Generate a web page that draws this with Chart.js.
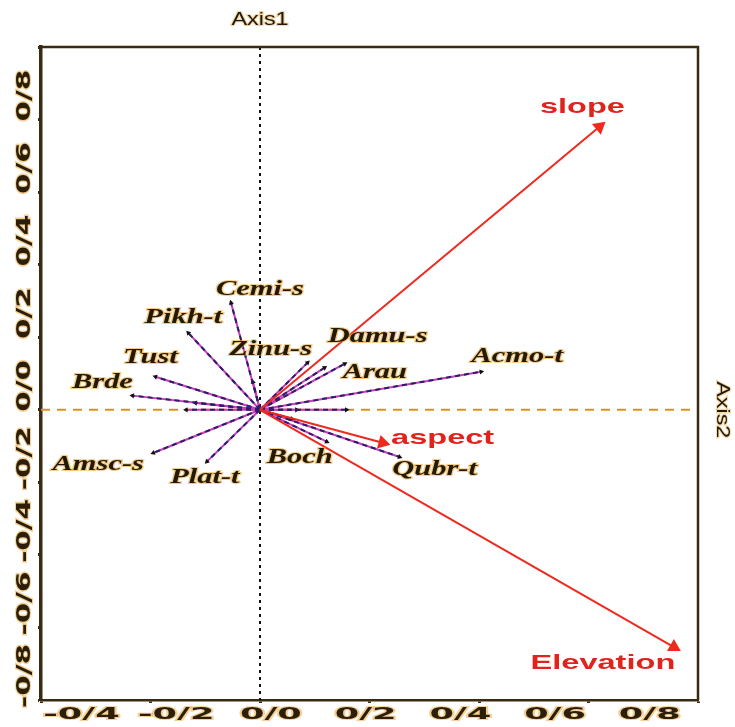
<!DOCTYPE html>
<html>
<head>
<meta charset="utf-8">
<script src="https://cdn.jsdelivr.net/npm/chart.js@4.4.0/dist/chart.umd.min.js"></script>
<style>
  html, body { margin: 0; padding: 0; background: #fff; }
  #wrap { width: 735px; height: 727px; }
</style>
</head>
<body>
<div id="wrap"><canvas id="biplot"></canvas></div>
<script>
// species arrows (tips); empty name = unlabeled arrow
const speciesNames = ['Cemi-s', 'Pikh-t', 'Tust', 'Brde', 'Amsc-s', 'Plat-t', 'Boch', 'Qubr-t', 'Acmo-t', 'Arau', 'Damu-s', 'Zinu-s', '', '', '', '', '', ''];
const speciesX = [-0.053, -0.131, -0.191, -0.233, -0.195, -0.097, 0.122, 0.255, 0.404, 0.155, 0.118, 0.087, -0.013, -0.135, -0.118, 0.158, 0.067, 0.058];
const speciesY = [0.295, 0.212, 0.091, 0.039, -0.119, -0.143, -0.088, -0.130, 0.105, 0.127, 0.116, 0.130, 0.077, 0.0, 0.019, 0.0, 0.0, -0.025];

// environmental vectors
const envNames = ['slope', 'Elevation', 'aspect'];
const envX = [0.620, 0.756, 0.224];
const envY = [0.780, -0.654, -0.091];

// axis ranges / ticks
const xRange = [-0.4, 0.8];
const yRange = [-0.8, 1.0];
const tickStep = 0.2;
const axisNames = ['Axis1', 'Axis2'];

// label placement relative to arrow tip (px)
const speciesLabelOffset = [[29, -13], [-5, -15], [-5, -19], [-30, -13], [-55, 12], [-2, 16], [-27, 16], [35, 13], [36, -15], [30, 9], [53, -31], [-37, -13]];
const envLabelOffset = [[-17, -20], [-71, 16], [60, -5]];

const BROWN = '#3b2a12';
const RED = '#ee2a1f';
const HALO = 'rgba(235,160,40,0.5)';

function fmt(v) {
  if (Math.abs(v) < 1e-9) return '0/0';
  return v.toFixed(1).replace('.', '/');
}

function arrowAngle(chart, tx, ty) {
  const sx = chart.scales.x, sy = chart.scales.y;
  const dx = sx.getPixelForValue(tx) - sx.getPixelForValue(0);
  const dy = sy.getPixelForValue(ty) - sy.getPixelForValue(0);
  return Math.atan2(dx, -dy) * 180 / Math.PI;
}

const datasets = [];

envNames.forEach((name, i) => {
  datasets.push({
    label: name,
    data: [{x: 0, y: 0}, {x: envX[i], y: envY[i]}],
    showLine: true,
    borderColor: RED,
    backgroundColor: RED,
    borderWidth: 2,
    pointStyle: 'triangle',
    pointRadius: ctx => ctx.dataIndex === 1 ? 6 : 0,
    rotation: ctx => arrowAngle(ctx.chart, envX[i], envY[i]),
    order: 0
  });
});

speciesX.forEach((sxv, i) => {
  // magenta underlay
  datasets.push({
    label: speciesNames[i] || 'sp' + i,
    data: [{x: 0, y: 0}, {x: sxv, y: speciesY[i]}],
    showLine: true,
    borderColor: '#c83cb4',
    borderWidth: 2,
    pointRadius: 0,
    order: 2
  });
  // dark dashed overlay with arrowhead
  datasets.push({
    label: (speciesNames[i] || 'sp' + i) + ' ',
    data: [{x: 0, y: 0}, {x: sxv, y: speciesY[i]}],
    showLine: true,
    borderColor: '#2b1d6e',
    borderDash: [5, 4],
    borderWidth: 2,
    backgroundColor: '#111',
    borderCapStyle: 'butt',
    pointStyle: 'triangle',
    pointBorderWidth: 0,
    pointRadius: ctx => ctx.dataIndex === 1 ? 3 : 0,
    rotation: ctx => arrowAngle(ctx.chart, sxv, speciesY[i]),
    order: 1
  });
});

// draw stretched text (the source image is widened)
function stretched(ctx, text, px, py, angle, font, color, sx, halo) {
  ctx.save();
  ctx.translate(px, py);
  ctx.rotate(angle);
  ctx.scale(sx, 1);
  ctx.font = font;
  ctx.textAlign = 'center';
  ctx.textBaseline = 'middle';
  if (halo) {
    ctx.lineWidth = 2;
    ctx.strokeStyle = halo;
    ctx.strokeText(text, 0, 0);
  }
  ctx.fillStyle = color;
  ctx.fillText(text, 0, 0);
  ctx.restore();
}

const framePlugin = {
  id: 'frame',
  beforeDatasetsDraw(chart) {
    const {ctx, chartArea: a, scales: {x, y}} = chart;
    const x0 = x.getPixelForValue(0), y0 = y.getPixelForValue(0);
    ctx.save();
    // horizontal zero line (orange dashed)
    ctx.strokeStyle = '#d9921c';
    ctx.lineWidth = 2;
    ctx.setLineDash([9, 7]);
    ctx.beginPath(); ctx.moveTo(a.left, y0); ctx.lineTo(a.right, y0); ctx.stroke();
    // vertical zero line (black dotted)
    ctx.strokeStyle = '#111';
    ctx.setLineDash([3, 4]);
    ctx.beginPath(); ctx.moveTo(x0, a.top); ctx.lineTo(x0, a.bottom); ctx.stroke();
    ctx.restore();
  },
  afterDraw(chart) {
    const {ctx, chartArea: a, scales: {x, y}} = chart;
    ctx.save();
    // top and right frame
    ctx.strokeStyle = BROWN;
    ctx.lineWidth = 2.5;
    ctx.beginPath();
    ctx.moveTo(a.left - 2, a.top); ctx.lineTo(a.right, a.top); ctx.lineTo(a.right, a.bottom);
    ctx.stroke();

    // tick labels, taken from the scales' own ticks
    x.ticks.forEach(t => {
      const px = x.getPixelForValue(t.value) * 0.865 + 46;
      stretched(ctx, fmt(t.value), px, a.bottom + 15, 0, 'bold 16px "DejaVu Sans"', '#2b1f0a', 2.2, HALO);
    });
    y.ticks.forEach(t => {
      if (t.value > 0.95) return;
      const py = y.getPixelForValue(t.value) - 24;
      stretched(ctx, fmt(t.value), 25, py, -Math.PI / 2, 'bold 19px "DejaVu Sans"', '#2b1f0a', 1.55, HALO);
    });

    // arrow labels
    speciesNames.forEach((n, i) => {
      if (!n) return;
      const px = x.getPixelForValue(speciesX[i]) + speciesLabelOffset[i][0];
      const py = y.getPixelForValue(speciesY[i]) + speciesLabelOffset[i][1];
      stretched(ctx, n, px, py, 0, 'italic bold 21px "Liberation Serif"', '#231a05', 1.45, 'rgba(235,160,40,0.55)');
    });
    envNames.forEach((n, i) => {
      const px = x.getPixelForValue(envX[i]) + envLabelOffset[i][0];
      const py = y.getPixelForValue(envY[i]) + envLabelOffset[i][1];
      stretched(ctx, n, px, py, 0, 'bold 21px "Liberation Sans"', '#e3221b', 1.55, null);
    });

    // axis names at the zero lines
    const x0 = x.getPixelForValue(0), y0 = y.getPixelForValue(0);
    stretched(ctx, axisNames[0], x0, 20, 0, '18px "Liberation Sans"', '#1e1a10', 1.3, 'rgba(235,160,40,0.4)');
    stretched(ctx, axisNames[1], a.right + 24, y0, Math.PI / 2, '18px "Liberation Sans"', '#1e1a10', 1.3, 'rgba(235,160,40,0.4)');
    ctx.restore();
  }
};

new Chart(document.getElementById('biplot'), {
  type: 'scatter',
  data: {datasets},
  options: {
    responsive: true,
    maintainAspectRatio: false,
    animation: false,
    events: [],
    layout: {padding: {top: 47, right: 37, left: 0, bottom: 0}},
    plugins: {legend: {display: false}, tooltip: {enabled: false}},
    scales: {
      x: {
        type: 'linear',
        min: xRange[0], max: xRange[1],
        afterFit(s) { s.height = 27; s.paddingLeft = 0; s.paddingRight = 0; },
        border: {color: BROWN, width: 2.5},
        grid: {drawOnChartArea: false, tickLength: 3, tickWidth: 3, tickColor: BROWN},
        ticks: {stepSize: tickStep, display: false}
      },
      y: {
        type: 'linear',
        min: yRange[0], max: yRange[1],
        afterFit(s) { s.width = 41; s.paddingTop = 0; s.paddingBottom = 0; },
        border: {color: BROWN, width: 3.5},
        grid: {drawOnChartArea: false, tickLength: 3, tickWidth: 3, tickColor: BROWN},
        ticks: {stepSize: tickStep, display: false}
      }
    }
  },
  plugins: [framePlugin]
});
</script>
</body>
</html>
